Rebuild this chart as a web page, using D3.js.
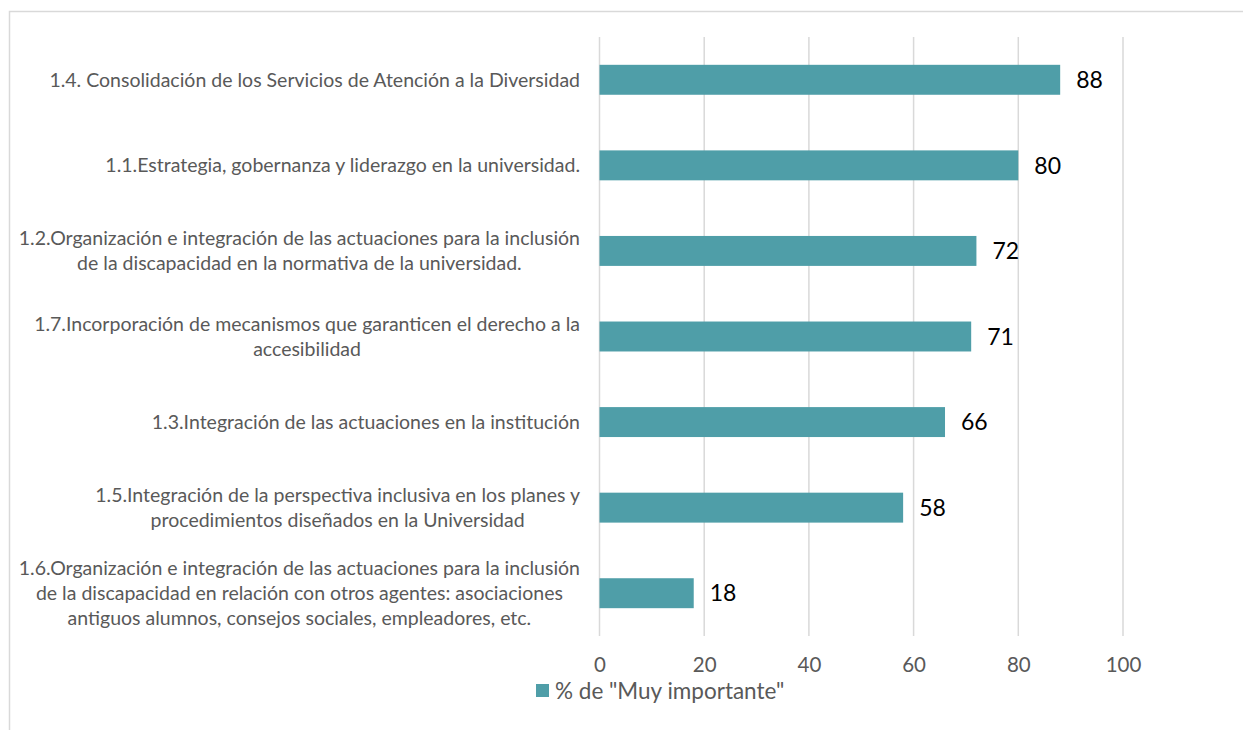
<!DOCTYPE html>
<html>
<head>
<meta charset="utf-8">
<script src="https://cdn.jsdelivr.net/npm/d3@7"></script>
<style>
  html, body { margin: 0; padding: 0; background: #fff; }
  svg { display: block; font-family: Lato, "Open Sans", sans-serif; }
</style>
</head>
<body>
<svg id="chart" width="1243" height="730"></svg>
<script>
// Category labels (top to bottom), split into display lines
const categories = [
  ["1.4. Consolidación de los Servicios de Atención a la Diversidad"],
  ["1.1.Estrategia, gobernanza y liderazgo en la universidad."],
  ["1.2.Organización e integración de las actuaciones para la inclusión",
   "de la discapacidad en la normativa de la universidad."],
  ["1.7.Incorporación de mecanismos que garanticen el derecho a la",
   "accesibilidad"],
  ["1.3.Integración de las actuaciones en la institución"],
  ["1.5.Integración de la perspectiva inclusiva en los planes y",
   "procedimientos diseñados en la Universidad"],
  ["1.6.Organización e integración de las actuaciones para la inclusión",
   "de la discapacidad en relación con otros agentes: asociaciones",
   "antiguos alumnos, consejos sociales, empleadores, etc."]
];
const values = [88, 80, 72, 71, 66, 58, 18];
const tickValues = [0, 20, 40, 60, 80, 100];
const seriesName = '% de "Muy importante"';

const svg = d3.select("#chart");
const W = 1243, H = 730;
const barColor = "#4f9ea8";
const gridColor = "#d9d9d9";
const textColor = "#595959";

// Outer chart frame
svg.append("rect")
  .attr("x", 9.5).attr("y", 11.5)
  .attr("width", W).attr("height", H)
  .attr("fill", "none").attr("stroke", "#d9d9d9").attr("stroke-width", 1.5);

const plot = { left: 599.5, right: 1123, top: 37, bottom: 636 };

const x = d3.scaleLinear().domain([0, 100]).range([plot.left, plot.right]);
const y = d3.scaleBand()
  .domain(d3.range(categories.length))
  .range([plot.top, plot.bottom])
  .paddingInner(0.65).paddingOuter(0.325);

// Vertical gridlines
svg.append("g")
  .selectAll("line")
  .data(tickValues)
  .join("line")
  .attr("x1", d => x(d)).attr("x2", d => x(d))
  .attr("y1", plot.top).attr("y2", plot.bottom)
  .attr("stroke", gridColor).attr("stroke-width", 1.5);

// Bars
svg.append("g")
  .selectAll("rect")
  .data(values)
  .join("rect")
  .attr("x", x(0))
  .attr("y", (d, i) => y(i))
  .attr("width", d => x(d) - x(0))
  .attr("height", y.bandwidth())
  .attr("fill", barColor);

// Value labels
svg.append("g")
  .selectAll("text")
  .data(values)
  .join("text")
  .attr("x", d => x(d) + 16)
  .attr("y", (d, i) => y(i) + y.bandwidth() / 2)
  .attr("dy", "0.36em")
  .attr("font-size", 23)
  .attr("fill", "#000")
  .text(d => d);

// Category labels: lines centred within a block right-aligned to the axis
const labelRight = 580;
const lineH = 25;
const labels = svg.append("g").attr("font-size", 19.5).attr("fill", textColor);
categories.forEach((lines, i) => {
  const cy = y(i) + y.bandwidth() / 2;
  const g = labels.append("g");
  const ts = lines.map((ln, k) =>
    g.append("text")
      .attr("y", cy + (k - (lines.length - 1) / 2) * lineH)
      .attr("dy", "0.35em")
      .attr("text-anchor", "middle")
      .text(ln));
  const maxW = d3.max(ts, t => t.node().getComputedTextLength());
  ts.forEach(t => t.attr("x", labelRight - maxW / 2));
});

// X axis tick labels
const axis = d3.axisBottom(x).tickValues(tickValues).tickSize(0).tickPadding(0);
const ax = svg.append("g")
  .attr("transform", `translate(0, ${plot.bottom + 21})`)
  .call(axis);
ax.select(".domain").remove();
ax.selectAll("text")
  .attr("font-size", 20.5)
  .attr("font-family", "Lato, 'Open Sans', sans-serif")
  .attr("fill", textColor)
  .attr("dy", "0.71em");

// Legend
const legend = svg.append("g").attr("transform", "translate(536, 684)");
legend.append("rect").attr("width", 13).attr("height", 13).attr("fill", barColor);
legend.append("text")
  .attr("x", 19).attr("y", 6.5).attr("dy", "0.36em")
  .attr("font-size", 22.5).attr("fill", textColor)
  .text(seriesName);
</script>
</body>
</html>
